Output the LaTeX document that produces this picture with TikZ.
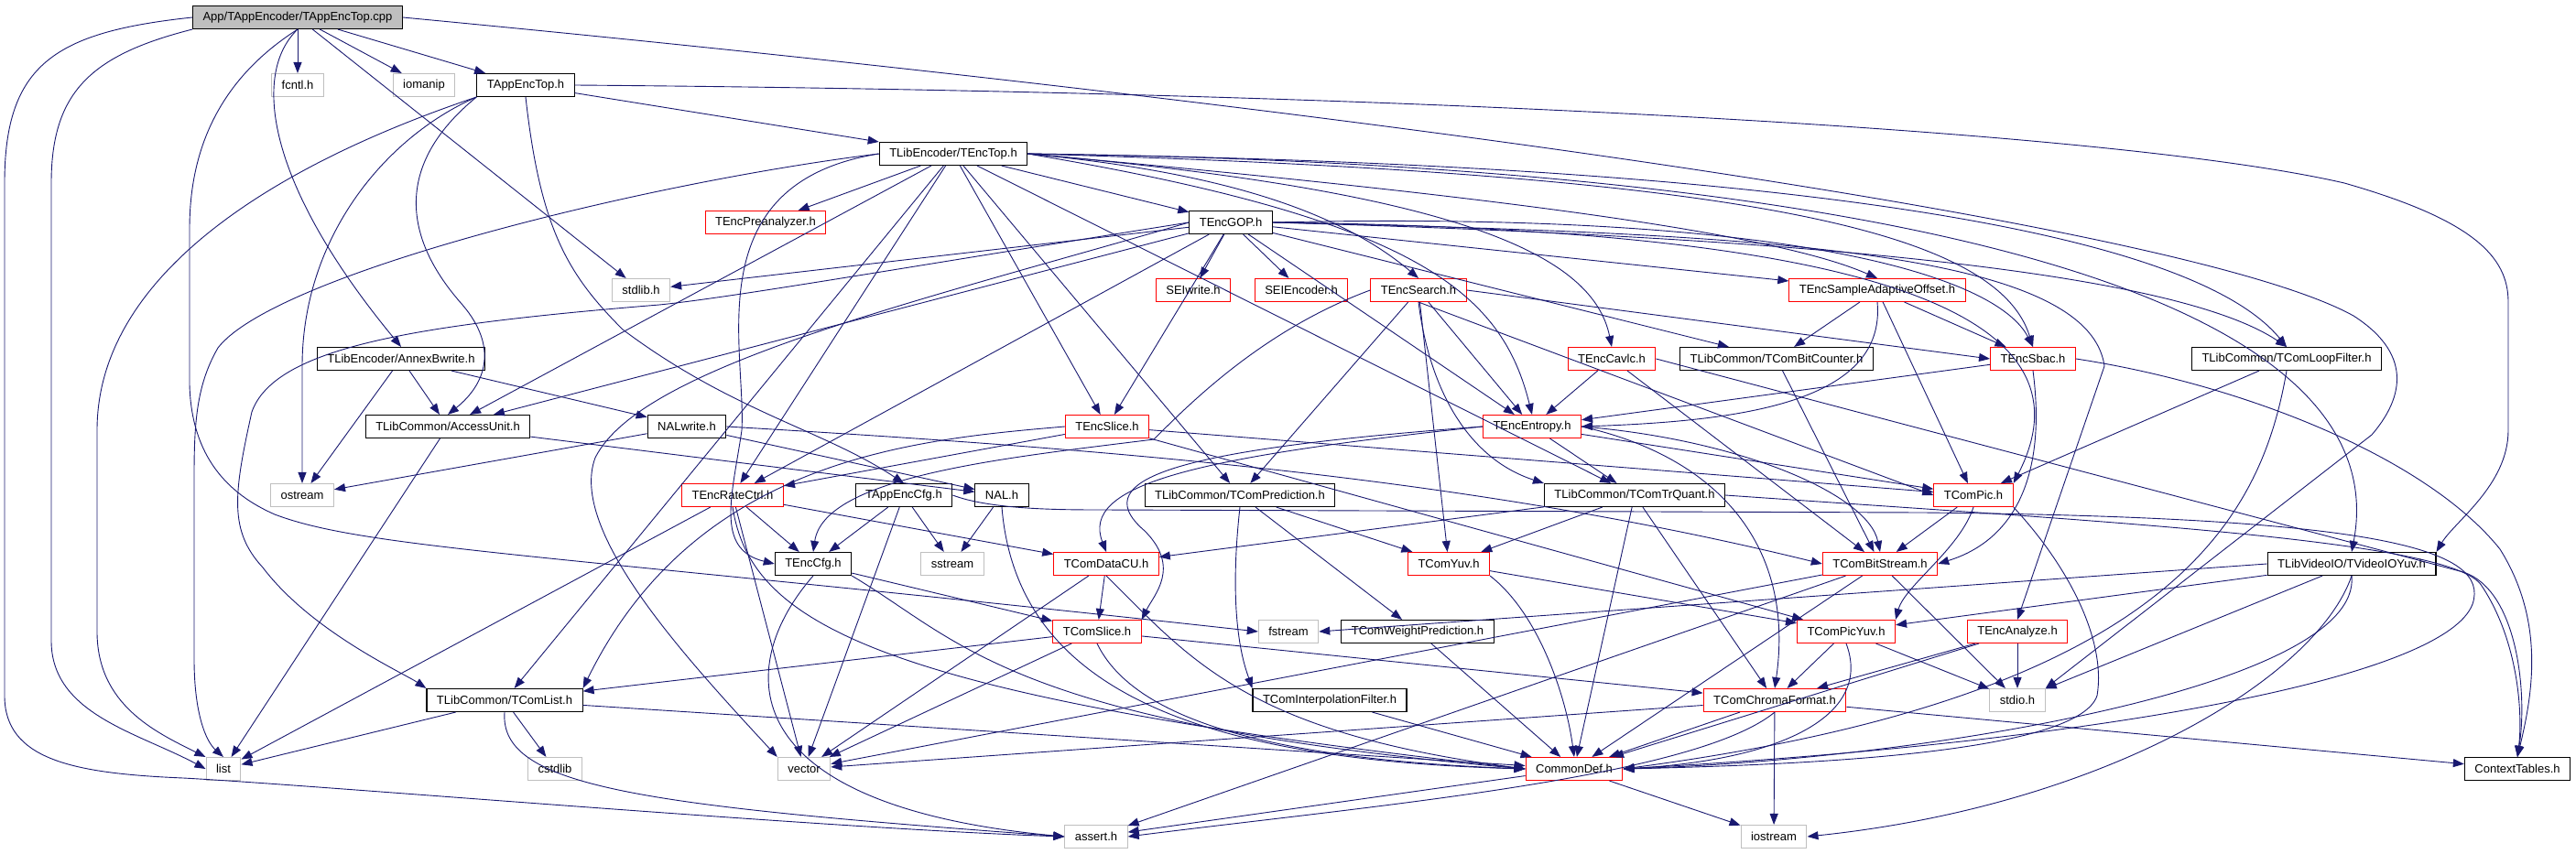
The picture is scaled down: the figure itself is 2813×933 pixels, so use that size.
\documentclass[tikz,border=0pt]{standalone}
\usepackage{fontspec}
\setmainfont{Liberation Sans}
\usepackage{tikz}
\usetikzlibrary{arrows.meta}
\definecolor{edgeblue}{RGB}{25,25,112}
\definecolor{sysgray}{RGB}{191,191,191}
\definecolor{truncred}{RGB}{255,0,0}

\begin{document}
\begin{tikzpicture}[x=1pt,y=-1pt,
  box/.style={rectangle,draw,fill=white,line width=1.1pt,minimum height=25pt,
              inner xsep=11pt,inner ysep=0pt,font=\fontsize{13}{15}\selectfont},
  docbox/.style={box,draw=black},
  truncbox/.style={box,draw=truncred},
  sysbox/.style={box,draw=sysgray},
  arrow/.style={-{Stealth[length=12pt,width=9pt,inset=0pt]},edgeblue,line width=0.9pt}
]
\useasboundingbox (0,0) rectangle (2813,933);

% top rows
\node[box,fill=sysgray] (cpp) at (325,19) {App/TAppEncoder/TAppEncTop.cpp};
\node[sysbox]   (fcntl)    at (325,93)   {fcntl.h};
\node[sysbox]   (iomanip)  at (463,93)   {iomanip};
\node[docbox]   (apptop)   at (574,93)   {TAppEncTop.h};
\node[docbox]   (enctop)   at (1041,168) {TLibEncoder/TEncTop.h};
\node[truncbox] (preana)   at (836,243)  {TEncPreanalyzer.h};
\node[docbox]   (gop)      at (1344,243) {TEncGOP.h};
\node[sysbox]   (stdlibh)  at (700,317)  {stdlib.h};
\node[truncbox] (seiwrite) at (1303,317) {SEIwrite.h};
\node[truncbox] (seienc)   at (1421,317) {SEIEncoder.h};
\node[truncbox] (search)   at (1549,317) {TEncSearch.h};
\node[truncbox] (sao)      at (2050,317) {TEncSampleAdaptiveOffset.h};

% middle rows
\node[docbox]   (annexb)   at (438,392)  {TLibEncoder/AnnexBwrite.h};
\node[truncbox] (cavlc)    at (1760,392) {TEncCavlc.h};
\node[docbox]   (bitcnt)   at (1940,392) {TLibCommon/TComBitCounter.h};
\node[truncbox] (sbac)     at (2220,392) {TEncSbac.h};
\node[docbox]   (loopf)    at (2497,392) {TLibCommon/TComLoopFilter.h};
\node[docbox]   (au)       at (489,466)  {TLibCommon/AccessUnit.h};
\node[docbox]   (nalwrite) at (750,466)  {NALwrite.h};
\node[truncbox] (slice)    at (1209,466) {TEncSlice.h};
\node[truncbox] (entropy)  at (1673,466) {TEncEntropy.h};
\node[sysbox]   (ostream)  at (330,541)  {ostream};
\node[truncbox] (ratectrl) at (800,541)  {TEncRateCtrl.h};
\node[docbox]   (appcfg)   at (987,541)  {TAppEncCfg.h};
\node[docbox]   (nal)      at (1094,541) {NAL.h};
\node[docbox]   (pred)     at (1354,541) {TLibCommon/TComPrediction.h};
\node[docbox]   (trquant)  at (1785,541) {TLibCommon/TComTrQuant.h};
\node[truncbox] (pic)      at (2155,541) {TComPic.h};
\node[docbox]   (enccfg)   at (888,616)  {TEncCfg.h};
\node[sysbox]   (sstream)  at (1040,616) {sstream};
\node[truncbox] (datacu)   at (1208,616) {TComDataCU.h};
\node[truncbox] (yuv)      at (1582,616) {TComYuv.h};
\node[truncbox] (bitstream) at (2053,616) {TComBitStream.h};
\node[docbox]   (vidyuv)   at (2568,616) {TLibVideoIO/TVideoIOYuv.h};
\node[truncbox] (comslice) at (1198,690) {TComSlice.h};
\node[sysbox]   (fstream)  at (1407,690) {fstream};
\node[docbox]   (weightpred) at (1548,690) {TComWeightPrediction.h};
\node[truncbox] (picyuv)   at (2016,690) {TComPicYuv.h};
\node[truncbox] (analyze)  at (2203,690) {TEncAnalyze.h};

% bottom rows
\node[docbox]   (comlist)  at (551,765)  {TLibCommon/TComList.h};
\node[docbox]   (interp)   at (1452,765) {TComInterpolationFilter.h};
\node[truncbox] (chroma)   at (1938,765) {TComChromaFormat.h};
\node[sysbox]   (stdio)    at (2203,765) {stdio.h};
\node[sysbox]   (list)     at (244,840)  {list};
\node[sysbox]   (cstdlib)  at (606,840)  {cstdlib};
\node[sysbox]   (vector)   at (878,840)  {vector};
\node[truncbox] (commondef) at (1719,840) {CommonDef.h};
\node[docbox]   (ctxtables) at (2749,840) {ContextTables.h};
\node[sysbox]   (assert)   at (1197,914) {assert.h};
\node[sysbox]   (iostream) at (1937,914) {iostream};

% TAppEncTop.cpp
\draw[arrow] (cpp) -- (fcntl);
\draw[arrow] (cpp) -- (iomanip);
\draw[arrow] (cpp) -- (apptop);
\draw[arrow] (cpp) -- (stdlibh);
\draw[arrow] (cpp.south) .. controls (275,80) and (290,200) .. (annexb.north);
\draw[arrow] (cpp.west) .. controls (60,35) and (5,70) .. (5,200) -- (5,760) .. controls (5,830) and (80,845) .. (200,850) .. controls (350,858) and (900,905) .. (assert.west);
\draw[arrow] (cpp.south west) .. controls (100,60) and (56,100) .. (56,200) -- (56,700) .. controls (56,780) and (150,800) .. (list.west);
\draw[arrow] (cpp.south) .. controls (250,80) and (207,150) .. (207,250) -- (207,420) .. controls (209,500) and (250,540) .. (300,562) .. controls (400,600) and (600,605) .. (fstream.west);
\draw[arrow] (cpp.east) .. controls (1400,110) and (2380,240) .. (2570,345) .. controls (2640,390) and (2620,440) .. (2590,475) -- (stdio.north east);

% TAppEncTop.h
\draw[arrow] (apptop) -- (enctop);
\draw[arrow] (apptop.south west) .. controls (300,180) and (106,300) .. (106,470) -- (106,690) .. controls (106,770) and (170,800) .. (list.north west);
\draw[arrow] (apptop.south west) .. controls (420,150) and (330,260) .. (330,400) -- (ostream.north);
\draw[arrow] (apptop.south west) .. controls (430,180) and (440,260) .. (505,333) .. controls (545,380) and (530,420) .. (au.north);
\draw[arrow] (apptop.south) .. controls (590,250) and (620,300) .. (680,360) .. controls (800,450) and (900,470) .. (appcfg.north);
\draw[arrow] (apptop.east) .. controls (1500,100) and (2300,140) .. (2560,200) .. controls (2700,240) and (2739,280) .. (2739,330) -- (2739,470) .. controls (2739,530) and (2680,570) .. (vidyuv.north east);

% TEncTop.h
\draw[arrow] (enctop) -- (preana);
\draw[arrow] (enctop) -- (gop);
\draw[arrow] (enctop) -- (slice);
\draw[arrow] (enctop) -- (au);
\draw[arrow] (enctop) -- (comlist);
\draw[arrow] (enctop) -- (ratectrl);
\draw[arrow] (enctop) -- (pred);
\draw[arrow] (enctop) -- (trquant);
\draw[arrow] (enctop.west) .. controls (700,200) and (300,300) .. (238,380) .. controls (215,420) and (212,460) .. (212,520) -- (212,720) .. controls (212,780) and (225,810) .. (list.north);
\draw[arrow] (enctop.west) .. controls (760,200) and (815,380) .. (810,470) .. controls (800,540) and (780,600) .. (enccfg.west);
\draw[arrow] (enctop.east) .. controls (1300,185) and (1450,220) .. (search.north);
\draw[arrow] (enctop.east) .. controls (1550,240) and (1640,320) .. (entropy.north);
\draw[arrow] (enctop.east) .. controls (1600,210) and (1740,280) .. (cavlc.north);
\draw[arrow] (enctop.east) .. controls (1700,220) and (1950,260) .. (sao.north);
\draw[arrow] (enctop.east) .. controls (1900,190) and (2180,250) .. (sbac.north);
\draw[arrow] (enctop.east) .. controls (2000,180) and (2400,260) .. (loopf.north);
\draw[arrow] (enctop.east) .. controls (2100,180) and (2620,330) .. (vidyuv.north);

% TEncGOP.h
\draw[arrow] (gop) -- (stdlibh);
\draw[arrow] (gop) -- (seiwrite);
\draw[arrow] (gop) -- (seienc);
\draw[arrow] (gop) -- (slice);
\draw[arrow] (gop) -- (sao);
\draw[arrow] (gop) -- (bitcnt);
\draw[arrow] (gop) -- (entropy);
\draw[arrow] (gop) -- (ratectrl);
\draw[arrow] (gop) -- (au);
\draw[arrow] (gop.west) .. controls (1000,290) and (800,325) .. (720,333) .. controls (450,355) and (300,380) .. (275,450) .. controls (255,540) and (250,580) .. (287,620) .. controls (340,690) and (440,735) .. (comlist.north west);
\draw[arrow] (gop.west) .. controls (1000,330) and (700,400) .. (650,500) .. controls (620,580) and (750,720) .. (vector.north west);
\draw[arrow] (gop.east) .. controls (1950,230) and (2180,300) .. (sbac.north);
\draw[arrow] (gop.east) .. controls (2000,260) and (2380,300) .. (loopf.north);
\draw[arrow] (gop.east) .. controls (2000,250) and (2300,330) .. (pic.north east);
\draw[arrow] (gop.east) .. controls (1900,255) and (2280,270) .. (2298,400) -- (analyze.north);

% encoder headers
\draw[arrow] (search) -- (yuv);
\draw[arrow] (search) -- (pred);
\draw[arrow] (search) -- (entropy);
\draw[arrow] (search.east) -- (sbac.west);
\draw[arrow] (search.south) -- (pic.west);
\draw[arrow] (search.south) .. controls (1560,420) and (1600,500) .. (trquant.north west);
\draw[arrow] (search.west) .. controls (1380,360) and (1300,440) .. (1260,480) .. controls (1100,500) and (900,520) .. (enccfg.north);
\draw[arrow] (sao) -- (bitcnt);
\draw[arrow] (sao) -- (pic);
\draw[arrow] (sao) -- (sbac);
\draw[arrow] (sao.south) .. controls (2060,440) and (1900,460) .. (entropy.east);
\draw[arrow] (annexb) -- (au);
\draw[arrow] (annexb) -- (ostream);
\draw[arrow] (annexb) -- (nalwrite);
\draw[arrow] (cavlc) -- (entropy);
\draw[arrow] (cavlc) -- (bitstream);
\draw[arrow] (cavlc.east) -- (2690,625) .. controls (2750,645) and (2760,760) .. (ctxtables.north);
\draw[arrow] (bitcnt) -- (bitstream);
\draw[arrow] (sbac) -- (entropy);
\draw[arrow] (sbac.south) .. controls (2235,520) and (2200,590) .. (bitstream.east);
\draw[arrow] (sbac.east) .. controls (2450,420) and (2650,500) .. (2730,600) .. controls (2780,680) and (2765,760) .. (ctxtables.north);
\draw[arrow] (loopf) -- (pic);
\draw[arrow] (loopf.south) .. controls (2470,560) and (2380,760) .. (commondef.east);
\draw[arrow] (au) -- (list);
\draw[arrow] (au) -- (nal);
\draw[arrow] (nalwrite) -- (ostream);
\draw[arrow] (nalwrite) -- (nal);
\draw[arrow] (nalwrite.east) .. controls (1200,490) and (1600,520) .. (bitstream.west);
\draw[arrow] (slice) -- (ratectrl);
\draw[arrow] (slice) -- (pic);
\draw[arrow] (slice) -- (picyuv);
\draw[arrow] (slice.west) .. controls (1000,480) and (760,500) .. (comlist.north east);
\draw[arrow] (entropy) -- (trquant);
\draw[arrow] (entropy) -- (pic);
\draw[arrow] (entropy.east) .. controls (1900,480) and (2040,540) .. (bitstream.north);
\draw[arrow] (entropy.east) .. controls (1880,500) and (1960,600) .. (chroma.north);
\draw[arrow] (entropy.west) .. controls (1300,490) and (1180,520) .. (1250,580) .. controls (1290,620) and (1260,650) .. (comslice.north east);
\draw[arrow] (entropy.west) .. controls (1300,500) and (1180,530) .. (datacu.north);
\draw[arrow] (ratectrl) -- (list);
\draw[arrow] (ratectrl) -- (enccfg);
\draw[arrow] (ratectrl) -- (datacu);
\draw[arrow] (ratectrl) -- (vector);
\draw[arrow] (ratectrl.south) .. controls (820,680) and (950,760) .. (commondef.west);
\draw[arrow] (appcfg) -- (enccfg);
\draw[arrow] (appcfg) -- (sstream);
\draw[arrow] (appcfg) -- (vector);
\draw[arrow] (appcfg.east) .. controls (1080,556) and (1150,557) .. (1200,557) -- (2100,560) .. controls (2600,565) and (2720,600) .. (2700,660) .. controls (2670,740) and (2300,810) .. (commondef.east);
\draw[arrow] (nal) -- (sstream);
\draw[arrow] (nal.south) .. controls (1110,750) and (1300,830) .. (commondef.west);

% common headers
\draw[arrow] (pred) -- (yuv);
\draw[arrow] (pred) -- (weightpred);
\draw[arrow] (pred.south) .. controls (1340,680) and (1360,730) .. (interp.north west);
\draw[arrow] (trquant) -- (commondef);
\draw[arrow] (trquant) -- (yuv);
\draw[arrow] (trquant) -- (datacu);
\draw[arrow] (trquant) -- (chroma);
\draw[arrow] (trquant.east) .. controls (2300,570) and (2680,590) .. (2710,640) .. controls (2750,700) and (2755,780) .. (ctxtables.north);
\draw[arrow] (pic) -- (bitstream);
\draw[arrow] (pic.south) .. controls (2140,600) and (2080,640) .. (picyuv.north east);
\draw[arrow] (pic.south east) .. controls (2260,620) and (2300,700) .. (2290,760) .. controls (2270,820) and (2000,835) .. (commondef.east);
\draw[arrow] (enccfg) -- (comslice);
\draw[arrow] (enccfg.south east) .. controls (1050,700) and (1100,790) .. (commondef.west);
\draw[arrow] (enccfg.south) .. controls (800,730) and (800,880) .. (assert.west);
\draw[arrow] (datacu) -- (comslice);
\draw[arrow] (datacu) -- (vector);
\draw[arrow] (datacu.south) .. controls (1300,720) and (1360,800) .. (commondef.west);
\draw[arrow] (yuv) -- (picyuv);
\draw[arrow] (yuv.south east) .. controls (1680,670) and (1710,760) .. (commondef.north);
\draw[arrow] (bitstream) -- (vector);
\draw[arrow] (bitstream) -- (stdio);
\draw[arrow] (bitstream) -- (assert);
\draw[arrow] (bitstream) -- (commondef);
\draw[arrow] (vidyuv) -- (picyuv);
\draw[arrow] (vidyuv) -- (stdio);
\draw[arrow] (vidyuv.west) -- (fstream.east);
\draw[arrow] (vidyuv.south) .. controls (2530,740) and (2300,880) .. (iostream.east);
\draw[arrow] (vidyuv.south) .. controls (2580,750) and (2100,830) .. (commondef.east);
\draw[arrow] (comslice) -- (comlist);
\draw[arrow] (comslice) -- (vector);
\draw[arrow] (comslice) -- (chroma);
\draw[arrow] (comslice.south) .. controls (1240,790) and (1400,830) .. (commondef.west);
\draw[arrow] (weightpred) -- (commondef);
\draw[arrow] (picyuv) -- (chroma);
\draw[arrow] (picyuv) -- (stdio);
\draw[arrow] (picyuv.south) .. controls (2045,780) and (1950,830) .. (commondef.east);
\draw[arrow] (analyze) -- (stdio);
\draw[arrow] (analyze) -- (chroma);
\draw[arrow] (analyze) -- (commondef);
\draw[arrow] (comlist) -- (list);
\draw[arrow] (comlist) -- (cstdlib);
\draw[arrow] (comlist) -- (commondef);
\draw[arrow] (comlist.south) .. controls (545,860) and (700,880) .. (assert.west);
\draw[arrow] (interp) -- (commondef);
\draw[arrow] (chroma) -- (commondef);
\draw[arrow] (chroma) -- (iostream);
\draw[arrow] (chroma) -- (vector);
\draw[arrow] (chroma) -- (ctxtables);
\draw[arrow] (chroma.south) .. controls (1850,850) and (1500,880) .. (assert.east);
\draw[arrow] (commondef) -- (assert);
\draw[arrow] (commondef) -- (iostream);
\end{tikzpicture}
\end{document}
